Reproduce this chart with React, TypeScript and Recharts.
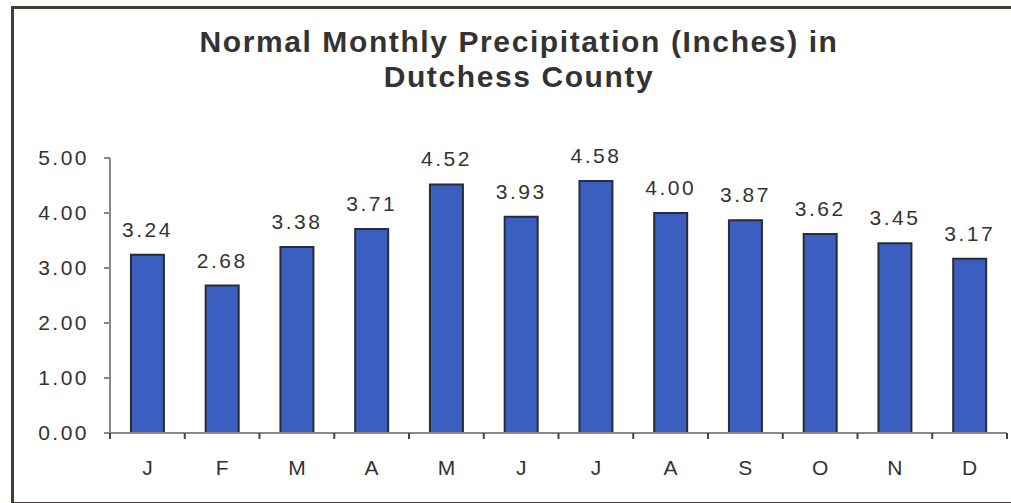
import { BarChart, Bar, XAxis, YAxis, LabelList } from 'recharts';

const months = ['J', 'F', 'M', 'A', 'M', 'J', 'J', 'A', 'S', 'O', 'N', 'D'];
const precipitation = [3.24, 2.68, 3.38, 3.71, 4.52, 3.93, 4.58, 4.0, 3.87, 3.62, 3.45, 3.17];
const yTicks = [0, 1, 2, 3, 4, 5];

const chartData = months.map((m, i) => ({ month: m, value: precipitation[i] }));

// x ticks sit between the months, like the old Excel style
const MonthTick = (props: any) => {
    const { x, y, payload, index, width, visibleTicksCount } = props;
    const step = width / (visibleTicksCount || months.length);
    const left = x - step / 2;
    const top = y - 8;
    return (
        <g>
            <line x1={left} y1={top} x2={left} y2={top + 6} stroke="#444" strokeWidth={2} />
            {index === visibleTicksCount - 1 && (
                <line x1={left + step} y1={top} x2={left + step} y2={top + 6} stroke="#444" strokeWidth={2} />
            )}
            <text x={x} y={y + 34} textAnchor="middle" fill="#333" fontSize={21}>
                {payload.value}
            </text>
        </g>
    );
};

export default function App() {
    return (
        <div style={{ position: 'absolute', left: 0, top: 0, width: 1011, height: 503, background: '#fff', fontFamily: 'Arial, "Liberation Sans", sans-serif', overflow: 'hidden' }}>
            <div style={{ position: 'absolute', left: 11, top: 6, width: 1020, height: 493, border: '3px solid #453c34' }} />
            <div style={{ position: 'absolute', left: 0, top: 24, width: 1038, textAlign: 'center', fontSize: 30, fontWeight: 'bold', color: '#333', lineHeight: '35px', letterSpacing: 1.6 }}>
                Normal Monthly Precipitation (Inches) in
                <br />
                Dutchess County
            </div>
            <div style={{ position: 'absolute', left: 0, top: 0 }}>
                <BarChart width={1011} height={503} data={chartData} margin={{ top: 158, right: 4, bottom: 30, left: 0 }} barCategoryGap="28%">
                    <YAxis
                        width={110}
                        domain={[0, 5]}
                        ticks={yTicks}
                        tickFormatter={(v: number) => v.toFixed(2)}
                        tick={{ fill: '#333', fontSize: 21, letterSpacing: 2.5 }}
                        tickSize={6}
                        tickMargin={15}
                        stroke="#888"
                        strokeWidth={2}
                    />
                    <XAxis
                        dataKey="month"
                        height={40}
                        tickLine={false}
                        tick={<MonthTick />}
                        stroke="#888"
                        strokeWidth={2}
                        interval={0}
                    />
                    <Bar dataKey="value" fill="#3a5fc0" stroke="#2b2b33" strokeWidth={2} isAnimationActive={false}>
                        <LabelList
                            dataKey="value"
                            position="top"
                            offset={18}
                            formatter={(v: any) => Number(v).toFixed(2)}
                            fill="#333"
                            fontSize={21}
                            letterSpacing={2.5}
                        />
                    </Bar>
                </BarChart>
            </div>
        </div>
    );
}
